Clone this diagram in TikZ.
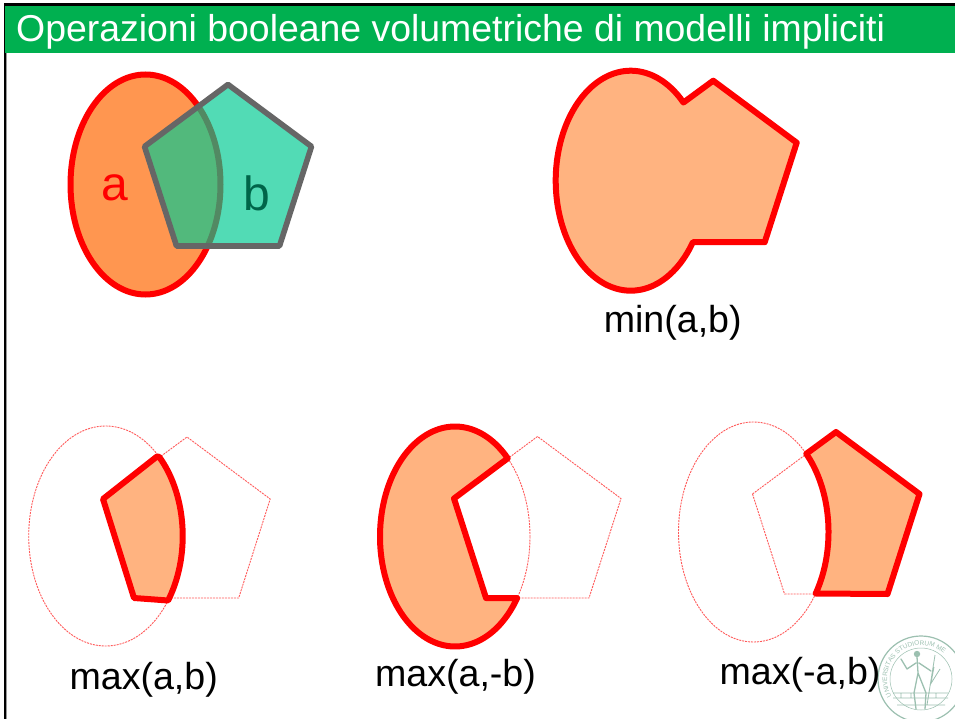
\documentclass[tikz,border=0pt]{standalone}
\usepackage{fontspec}
\setmainfont{Liberation Sans}
\usetikzlibrary{decorations.text}
\definecolor{orangeA}{HTML}{FF9650}
\definecolor{peach}{HTML}{FFB380}
\definecolor{tealB}{HTML}{00CA92}
\definecolor{greyB}{HTML}{666666}
\definecolor{barG}{HTML}{00B050}
\definecolor{sealG}{HTML}{9CC0B0}
\definecolor{ghostR}{HTML}{FF5A5A}
\newcommand{\Rx}{75}
\newcommand{\Ry}{110}
\tikzset{
  x=1pt,y=-1pt,
  solid/.style={draw=red,line width=6pt,line join=round,fill=peach},
  ghost/.style={draw=ghostR,line width=.9pt,dash pattern=on 2pt off 1pt},
  lab/.style={font=\fontsize{37.6}{37.6}\selectfont,text=black,inner sep=0pt},
  big/.style={font=\fontsize{48}{48}\selectfont,inner sep=0pt},
  ellplot/.style={samples=60,smooth}
}
\begin{document}
\begin{tikzpicture}
\useasboundingbox (0,0) rectangle (955,719);
\fill[white] (0,0) rectangle (955,719);
% slide frame
\fill[black] (4,3) rectangle (955,6);
\fill[black] (4,3) rectangle (6,719);
\fill[black!40] (6,53) rectangle (7,719);
\fill[barG] (5,6) rectangle (955,53.5);
\node[anchor=base west,inner sep=0pt,text=white,font=\fontsize{37.4}{37.4}\selectfont] (title) at (16,42) {Operazioni booleane volumetriche di modelli impliciti};
% seal
\begin{scope}
  \clip (870,630) rectangle (955,719);
  \begin{scope}[shift={(921,679)}]
  \draw[sealG,line width=1.2pt] (0,0) circle[radius=43];
  \draw[sealG,line width=.5pt] (0,0) circle[radius=31];
  \draw[sealG,line width=1.3pt,line cap=round,line join=round] (-4,-22) -- (-3,-6) -- (-7,14) -- (-5,30) (-3,-6) -- (5,14) -- (4,30) (-5,-16) -- (-14,-10) -- (-20,-20) (-2,-16) -- (10,-8);
  \fill[sealG] (-4,-25) circle[radius=3.2];
  \draw[sealG,line width=.8pt] (14,-24) -- (6,26) (19,-10) -- (9,6) (13,-12) -- (10,4) (-28,14) -- (27,14) (-28,19) -- (27,19) (-20,14) -- (-20,19) (-10,14) -- (-10,19) (15,14) -- (15,19) (-24,26) -- (24,26);
  \path[decorate,decoration={text along path,text align=left,text={|\fontsize{6.5}{6.5}\selectfont\color{sealG}|UNIVERSITAS STUDIORUM ME}}]
    plot[domain=150:335,samples=40] ({34*cos(\x)},{34*sin(\x)});
  \end{scope}
\end{scope}
% top-left: a and b
\begin{scope}[shift={(145.5,184.5)}]
  \draw[draw=red,line width=6pt,fill=orangeA] (0,0) circle[x radius=\Rx,y radius=\Ry];
  \fill[tealB,fill opacity=.68] (-1,-38) -- (82.5,-100) -- (166,-38) -- (134,61.5) -- (31,61.5) -- cycle;
  \draw[greyB,line width=5.6pt,line join=round] (-1,-38) -- (82.5,-100) -- (166,-38) -- (134,61.5) -- (31,61.5) -- cycle;
  \node[big,text=red] (a) at (-30.5,3) {a};
  \node[big,text=tealB!50!black] (b) at (111.5,9) {b};
\end{scope}
% min(a,b)
\begin{scope}[shift={(630.7,180.7)}]
  \draw[solid] plot[domain=34:314.7,ellplot] ({\Rx*cos(\x)},{\Ry*sin(\x)}) -- (82.5,-100) -- (166,-38) -- (134,61.5) -- cycle;
  \node[lab] (minab) at (42,142) {min(a,b)};
\end{scope}
% max(a,b)
\begin{scope}[shift={(105.7,536)}]
  \draw[ghost] (0,0) circle[x radius=77,y radius=110];
  \draw[ghost] (-2.7,-37) -- (81.3,-99) -- (164.5,-37) -- (133,62) -- (28.3,62) -- cycle;
  \draw[solid] (-2.7,-37) -- (51.3,-79.5) -- plot[domain=-46:35.9,ellplot] ({77*cos(\x)},{110*sin(\x)}) -- (28.3,62) -- cycle;
  \node[lab] (maxab) at (38,143.5) {max(a,b)};
\end{scope}
% max(a,-b)
\begin{scope}[shift={(455,536.5)}]
  \draw[ghost] (0,0) circle[x radius=\Rx,y radius=\Ry];
  \draw[ghost] (-1,-38) -- (82.5,-100) -- (166,-38) -- (134,61.5) -- (31,61.5) -- cycle;
  \draw[solid] plot[domain=34:314.7,ellplot] ({\Rx*cos(\x)},{\Ry*sin(\x)}) -- (-1,-38) -- (31,61.5) -- cycle;
  \node[lab] (maxamb) at (0.5,140) {max(a,-b)};
\end{scope}
% max(-a,b)
\begin{scope}[shift={(753.5,532)}]
  \draw[ghost] (0,0) circle[x radius=\Rx,y radius=\Ry];
  \draw[ghost] (-1,-38) -- (82.5,-100) -- (166,-38) -- (134,62) -- (31,62) -- cycle;
  \draw[solid] plot[domain=-45.3:34,ellplot] ({\Rx*cos(\x)},{\Ry*sin(\x)}) -- (134,62) -- (166,-38) -- (82.5,-100) -- cycle;
  \node[lab] (maxmab) at (46.5,143) {max(-a,b)};
\end{scope}
\end{tikzpicture}
\end{document}
